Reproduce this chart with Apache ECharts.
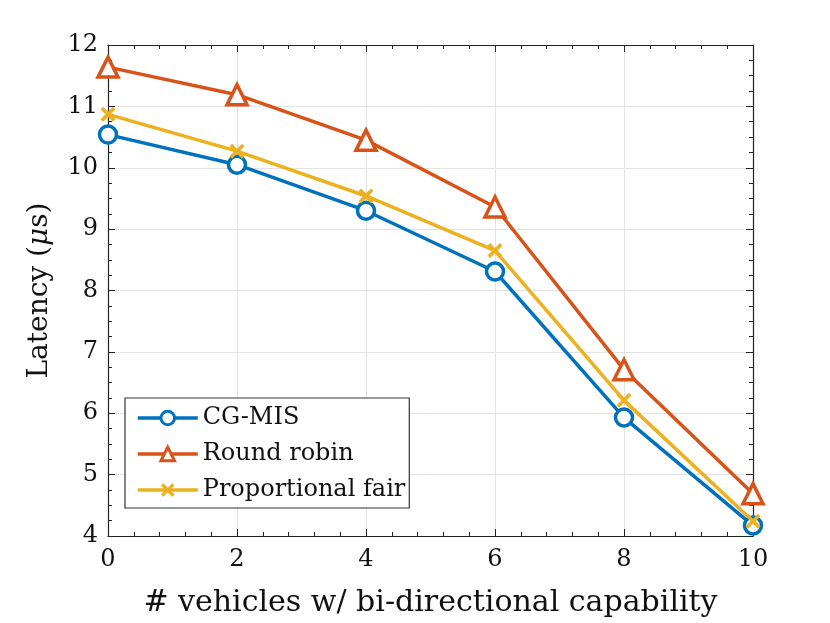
<!DOCTYPE html>
<html>
<head>
<meta charset="utf-8">
<script src="https://cdn.jsdelivr.net/npm/echarts@6/dist/echarts.min.js"></script>
<style>
  html, body { margin: 0; padding: 0; background: #fff; }
  #chart { width: 830px; height: 623px; }
</style>
</head>
<body>
<div id="chart"></div>
<script>
// data
var vehicles = [0, 2, 4, 6, 8, 10];
var cgMis = [10.54, 10.05, 9.30, 8.31, 5.93, 4.17];
var roundRobin = [11.64, 11.19, 10.45, 9.36, 6.71, 4.69];
var propFair = [10.87, 10.27, 9.54, 8.65, 6.21, 4.24];

var FONT = 'DejaVu Serif';
// filled "x" so the marker stroke is as thick as the line
var crossPath = 'path://M0,1.7L1.7,0L5,3.3L8.3,0L10,1.7L6.7,5L10,8.3L8.3,10L5,6.7L1.7,10L0,8.3L3.3,5Z';

function pairs(ys) {
  return vehicles.map(function (x, i) { return [x, ys[i]]; });
}

function mkSeries(name, data, color, symbol, size, solid) {
  return {
    name: name,
    type: 'line',
    data: pairs(data),
    symbol: symbol,
    symbolSize: size,
    showAllSymbol: true,
    lineStyle: { color: color, width: 3.5 },
    itemStyle: solid
      ? { color: color, borderColor: color, borderWidth: 0 }
      : { color: '#fff', borderColor: color, borderWidth: 3.5 },
    emphasis: { disabled: true },
    z: 3
  };
}

var frameAxis = {
  axisLine: { show: true, onZero: false, lineStyle: { color: '#222', width: 1.2 } },
  axisTick: { show: true, inside: true, length: 7, lineStyle: { color: '#222' } },
  minorTick: { show: true, length: 4, lineStyle: { color: '#222' } },
  axisLabel: { show: false },
  splitLine: { show: false }
};

var myChart = echarts.init(document.getElementById('chart'));
var option = {
  backgroundColor: '#fff',
  animation: false,
  grid: { left: 108, right: 77, top: 45, bottom: 86 },
  legend: {
    left: 125, top: 398,
    orient: 'vertical',
    itemWidth: 60, itemHeight: 17, itemGap: 12,
    padding: [8, 4, 6, 11],
    borderColor: '#333', borderWidth: 1.2, backgroundColor: '#fff',
    lineStyle: { width: 3.5 },
    itemStyle: { borderWidth: 3 },
    textStyle: { fontFamily: FONT, fontSize: 24, color: '#111' },
    data: [
      { name: 'CG-MIS' },
      { name: 'Round robin' },
      { name: 'Proportional fair', itemStyle: { borderWidth: 0 } }
    ]
  },
  xAxis: [
    Object.assign({}, frameAxis, {
      type: 'value', min: 0, max: 10, interval: 2,
      minorTick: { show: true, splitNumber: 5, length: 4, lineStyle: { color: '#222' } },
      axisLabel: { show: true, fontFamily: FONT, fontSize: 24, color: '#111', margin: 12 },
      splitLine: { show: true, lineStyle: { color: '#e3e3e3', width: 1 } },
      name: '# vehicles w/ bi-directional capability',
      nameLocation: 'middle', nameGap: 52,
      nameTextStyle: { fontFamily: FONT, fontSize: 30, color: '#111' }
    }),
    Object.assign({}, frameAxis, {
      type: 'value', min: 0, max: 10, interval: 2, position: 'top',
      minorTick: { show: true, splitNumber: 5, length: 4, lineStyle: { color: '#222' } }
    })
  ],
  yAxis: [
    Object.assign({}, frameAxis, {
      type: 'value', min: 4, max: 12, interval: 1,
      minorTick: { show: true, splitNumber: 4, length: 4, lineStyle: { color: '#222' } },
      axisLabel: { show: true, fontFamily: FONT, fontSize: 24, color: '#111', margin: 10 },
      splitLine: { show: true, lineStyle: { color: '#e3e3e3', width: 1 } },
      name: '{n|Latency (}{i|\u03bc}{n|s)}',
      nameLocation: 'middle', nameGap: 54, nameRotate: 90,
      nameTextStyle: {
        rich: {
          n: { fontFamily: FONT, fontSize: 28, color: '#111' },
          i: { fontFamily: FONT, fontSize: 28, fontStyle: 'italic', color: '#111' }
        }
      }
    }),
    Object.assign({}, frameAxis, {
      type: 'value', min: 4, max: 12, interval: 1, position: 'right',
      minorTick: { show: true, splitNumber: 4, length: 4, lineStyle: { color: '#222' } }
    })
  ],
  series: [
    mkSeries('CG-MIS', cgMis, '#0072BD', 'circle', 17, false),
    mkSeries('Round robin', roundRobin, '#D95319', 'triangle', 20, false),
    mkSeries('Proportional fair', propFair, '#EDB120', crossPath, 15, true)
  ]
};
myChart.setOption(option);
window.addEventListener('resize', function () {
  myChart.resize();
});
</script>
</body>
</html>
